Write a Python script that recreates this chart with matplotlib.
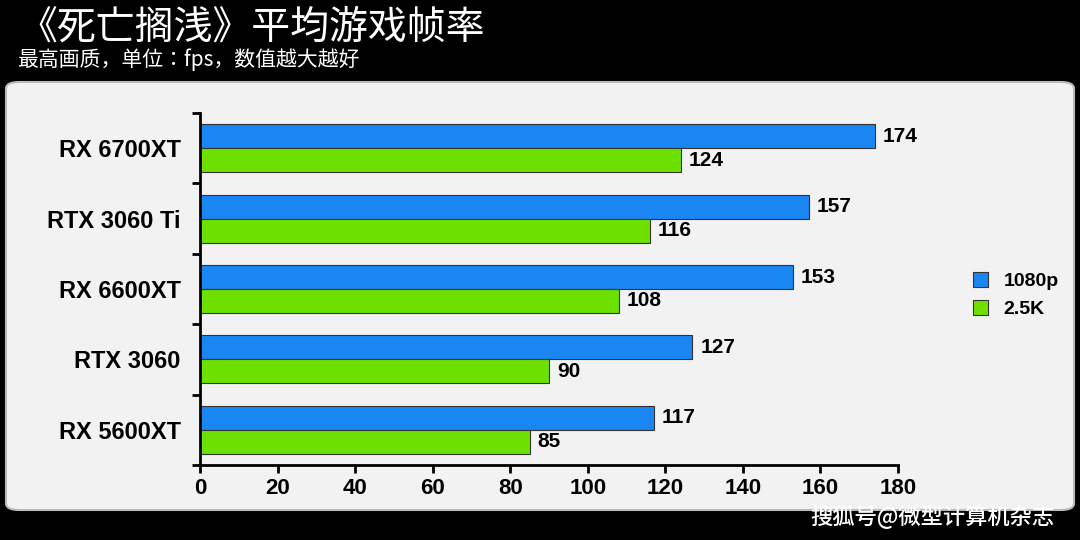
import matplotlib.pyplot as plt
import numpy as np
from matplotlib.patches import FancyBboxPatch
from matplotlib.font_manager import FontProperties

plt.rcParams["font.family"] = ["Liberation Sans"]
cjk_title = FontProperties(fname="/usr/share/fonts/opentype/noto/NotoSansCJK-Regular.ttc", size=28)
cjk_sub = FontProperties(fname="/usr/share/fonts/opentype/noto/NotoSansCJK-Regular.ttc", size=15)
cjk_mark = FontProperties(fname="/usr/share/fonts/opentype/noto/NotoSansCJK-Medium.ttc", size=16)

gpus = ["RX 6700XT", "RTX 3060 Ti", "RX 6600XT", "RTX 3060", "RX 5600XT"]
fps_1080p = [174, 157, 153, 127, 117]
fps_25k = [124, 116, 108, 90, 85]
series_names = ["1080p", "2.5K"]
xticks = list(range(0, 181, 20))

fig = plt.figure(figsize=(10.8, 5.4), dpi=100)
fig.patch.set_facecolor("black")

box = FancyBboxPatch((6 / 1080, 30 / 540), 1068 / 1080, 428 / 540,
                     boxstyle="round,pad=0,rounding_size=0.012",
                     transform=fig.transFigure, fc="#f2f2f2", ec="#bbbbbb", lw=1.5, zorder=-10)
fig.patches.append(box)

fig.text(18 / 1080, 1 - 28 / 540, "《死亡搁浅》平均游戏帧率", color="white",
         fontproperties=cjk_title, va="center", ha="left")
fig.text(18 / 1080, 1 - 60 / 540, "最高画质，单位：fps，数值越大越好", color="white",
         fontproperties=cjk_sub, va="center", ha="left")
fig.text(1055 / 1080, 1 - 517 / 540, "搜狐号@微型计算机杂志", color="white",
         fontproperties=cjk_mark, va="center", ha="right")

ax = fig.add_axes([200 / 1080, 1 - 465 / 540, 698 / 1080, 352 / 540])
ax.set_facecolor("#f2f2f2")
y = np.arange(len(gpus))
h = 0.34
b1 = ax.barh(y - h / 2, fps_1080p, height=h, color="#1a86f2", edgecolor="#333333", lw=0.8, label=series_names[0])
b2 = ax.barh(y + h / 2, fps_25k, height=h, color="#6ee000", edgecolor="#333333", lw=0.8, label=series_names[1])
for bars in (b1, b2):
    for r in bars:
        ax.text(r.get_width() + 2, r.get_y() + r.get_height() / 2, f"{int(r.get_width())}",
                va="center", ha="left", fontsize=15, fontweight="bold")
ax.set_ylim(len(gpus) - 0.5, -0.5)
ax.set_xlim(0, 180)
ax.set_yticks(y)
ax.set_yticklabels(gpus, fontsize=17, fontweight="bold")
ax.set_xticks(xticks)
ax.set_xticklabels([str(t) for t in xticks], fontsize=16, fontweight="bold")
for s in ("top", "right"):
    ax.spines[s].set_visible(False)
for s in ("left", "bottom"):
    ax.spines[s].set_linewidth(2)
ax.tick_params(axis="x", length=6, width=2)
ax.yaxis.set_ticks([i + 0.5 for i in range(-1, len(gpus))], minor=True)
ax.tick_params(axis="y", which="major", length=0, pad=14)
ax.tick_params(axis="y", which="minor", length=6, width=2)

fig.legend(handles=[b1, b2], loc="center left", bbox_to_anchor=(955 / 1080, 1 - 295 / 540),
           frameon=False, prop={"size": 14, "weight": "bold"}, handlelength=0.8, handleheight=0.8)

fig.savefig("out.png", dpi=100, facecolor=fig.get_facecolor())
